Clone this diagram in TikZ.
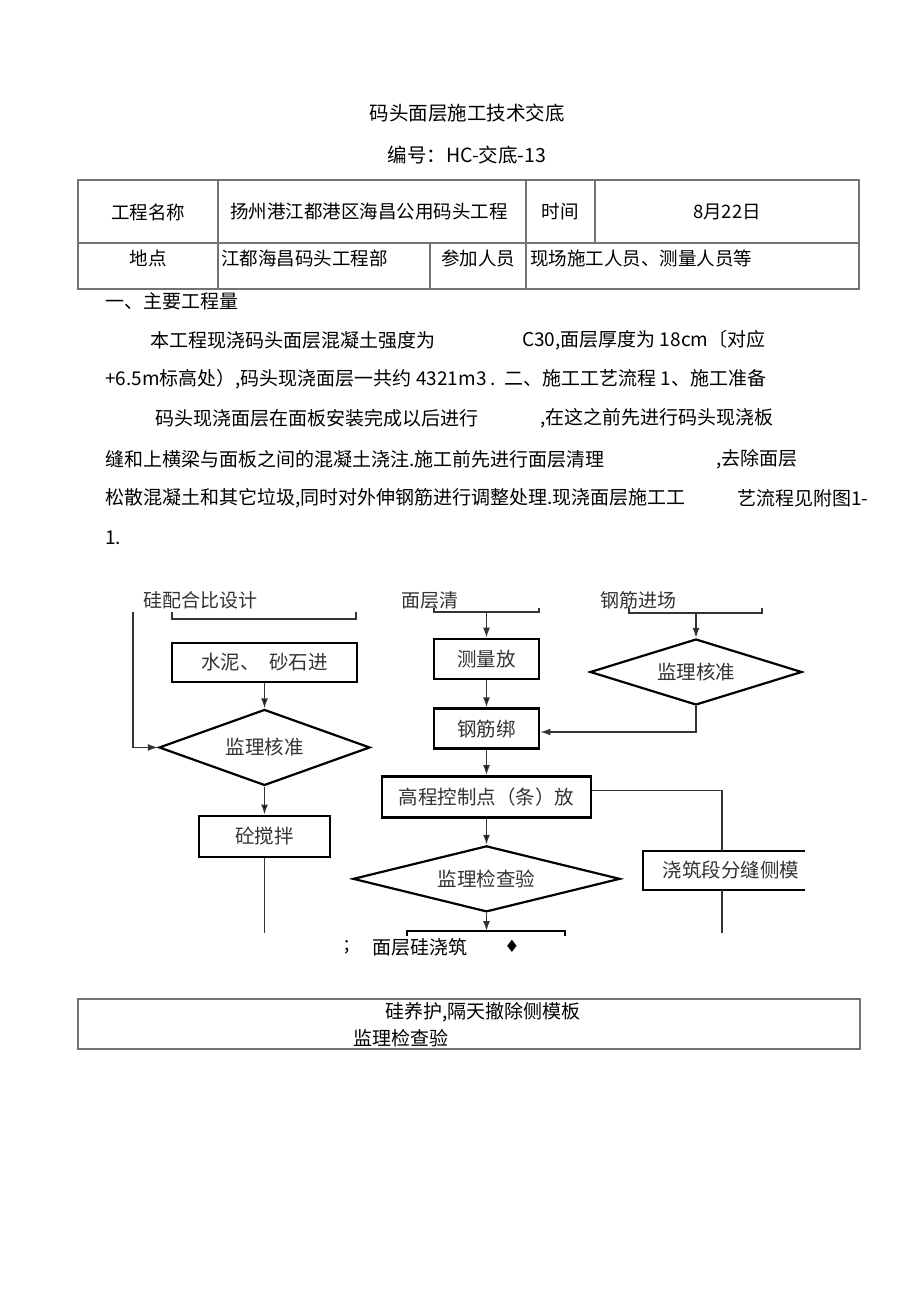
\documentclass[tikz,border=0pt]{standalone}
\usepackage{fontspec}
\setmainfont{Noto Sans CJK SC}
\newfontfamily\symfont{DejaVu Sans}
\usetikzlibrary{positioning}
\usetikzlibrary{shapes.geometric}
\usetikzlibrary{arrows.meta}
\tikzset{
  txt/.style={anchor=west, inner sep=0pt, font=\fontsize{19}{20}\selectfont},
  cell/.style={inner sep=0pt, font=\fontsize{18.5}{20}\selectfont},
  grid/.style={draw=black!55, line width=1.2pt},
  box/.style={draw, line width=2.7pt, inner sep=0pt, text=black!80,
    font=\fontsize{19.5}{20}\selectfont},
  decide/.style={diamond, draw, line width=2.2pt, inner sep=0pt, aspect=3,
    text=black!80, font=\fontsize{19.5}{20}\selectfont},
  link/.style={draw=black!80, line width=1.5pt},
  flow/.style={link, -{Latex[length=10pt,width=7pt]}}
}

\begin{document}
\begin{tikzpicture}[x=1pt,y=1pt]
    \useasboundingbox (0,0) rectangle (920,-1303);
    \fill[white] (0,0) rectangle (920,-1303);

    % heading
    \node[cell, font=\fontsize{19.5}{20}\selectfont] (title) at (467,-113) {码头面层施工技术交底};
    \node[cell, font=\fontsize{19.5}{20}\selectfont] (code) at (467,-155) {编号：HC-交底-13};

    % table
    \draw[grid] (78,-180) rectangle (859,-289);
    \draw[grid] (78,-243) -- (859,-243);
    \draw[grid] (218,-180) -- (218,-289);
    \draw[grid] (526,-180) -- (526,-289);
    \draw[grid] (595,-180) -- (595,-243);
    \draw[grid] (430,-243) -- (430,-289);
    \node[cell] (nameh) at (148,-212) {工程名称};
    \node[cell, anchor=west] (name) at (230,-212) {扬州港江都港区海昌公用码头工程};
    \node[cell] (timeh) at (560,-212) {时间};
    \node[cell] (time) at (727,-212) {8月22日};
    \node[cell] (placeh) at (148,-258) {地点};
    \node[cell, anchor=west] (place) at (221,-258) {江都海昌码头工程部};
    \node[cell] (staffh) at (478,-258) {参加人员};
    \node[cell, anchor=west] (staff) at (530,-258) {现场施工人员、测量人员等};

    % text
    \node[txt] (sec1) at (105,-301) {一、主要工程量};
    \node[txt] (p1a) at (150,-340) {本工程现浇码头面层混凝土强度为};
    \node[txt] (p1b) at (522,-340) {C30,面层厚度为 18cm〔对应};
    \node[txt] (p2) at (105,-379) {+6.5m标高处）,码头现浇面层一共约 4321m3 .\ \ 二、施工工艺流程 1、施工准备};
    \node[txt] (p3a) at (155,-418) {码头现浇面层在面板安装完成以后进行};
    \node[txt] (p3b) at (540,-418) {,在这之前先进行码头现浇板};
    \node[txt] (p4a) at (105,-459) {缝和上横梁与面板之间的混凝土浇注.施工前先进行面层清理};
    \node[txt] (p4b) at (716,-459) {,去除面层};
    \node[txt] (p5a) at (105,-498) {松散混凝土和其它垃圾,同时对外伸钢筋进行调整处理.现浇面层施工工};
    \node[txt] (p5b) at (737,-498) {艺流程见附图1-};
    \node[txt] (p6) at (105,-538) {1.};

    % concrete column
    \node[txt, text=black!80] (mixlbl) at (143,-600) {硅配合比设计};
    \draw[link] (172,-612) -- (172,-619) -- (356,-619) -- (356,-612);
    \node[box, minimum width=185pt, minimum height=39pt] (cement) at (264.5,-662.5) {水泥、\hspace{0.5em}砂石进};
    \node[decide, minimum width=211pt, minimum height=76pt, below=25pt of cement] (approveA) {监理核准};
    \node[box, minimum width=131pt, minimum height=41pt, below=28pt of approveA] (stir) {砼搅拌};
    \coordinate (leftTop) at (133,-612);
    \coordinate (stirEnd) at (264.5,-933);

    \draw[flow] (leftTop) |- (approveA.west);
    \draw[flow] (cement) edge (approveA);
    \draw[flow] (approveA) edge (stir);
    \draw[link] (stir) -- (stirEnd);

    % surface column
    \node[txt, text=black!80] (cleanlbl) at (401,-600) {面层清};
    \draw[link] (434,-608) -- (434,-612) -- (539,-612) -- (539,-608);
    \coordinate (cleanbar) at (486.5,-612);
    \node[box, minimum width=105pt, minimum height=40pt] (survey) at (486.5,-659) {测量放};
    \node[box, minimum width=105pt, minimum height=40pt, below=27pt of survey] (bind) {钢筋绑};
    \node[box, minimum width=209pt, minimum height=41pt, below=25pt of bind] (level) {高程控制点（条）放};
    \node[decide, minimum width=267pt, minimum height=66pt, below=26pt of level] (inspect) {监理检查验};
    \coordinate (pourTop) at (486.5,-931);

    \draw[flow] (cleanbar) -- (survey);
    \draw[flow] (survey) edge (bind);
    \draw[flow] (bind) edge (level);
    \draw[flow] (level) edge (inspect);
    \draw[flow] (inspect) -- (pourTop);
    \draw[line width=2.7pt] (407,-936) -- (407,-931) -- (565,-931) -- (565,-936);

    % steel column
    \node[txt, text=black!80] (steellbl) at (600,-600) {钢筋进场};
    \draw[link] (629,-608) -- (629,-613) -- (762,-613) -- (762,-608);
    \coordinate (steelbar) at (696,-613);
    \node[decide, minimum width=212pt, minimum height=66pt] (approveB) at (696,-672) {监理核准};
    \coordinate (bindIn) at (696,-732);

    \draw[flow] (steelbar) -- (approveB);
    \draw[flow] (approveB.south) -- (bindIn) -- (bind.east |- bindIn);

    % side forms
    \node[inner sep=0pt, text=black!80, font=\fontsize{19.5}{20}\selectfont] (form) at (731,-870.5) {浇筑段分缝侧模};
    \draw[line width=2.7pt] (805,-851) -- (643,-851) -- (643,-890) -- (805,-890);
    \coordinate (formTop) at (722,-851);
    \coordinate (formBot) at (722,-890);
    \coordinate (formEnd) at (722,-933);
    \draw[link] ([yshift=6.5pt]level.east) -| (formTop);
    \draw[link] (formBot) -- (formEnd);

    % pouring
    \node[txt] (semi) at (344,-947) {;};
    \node[txt] (pour) at (372,-947) {面层硅浇筑};
    \node[inner sep=0pt, font=\symfont\fontsize{17}{17}\selectfont] (mark) at (512,-946) {♦};

    % curing
    \draw[grid] (78,-999) rectangle (860,-1049);
    \node[txt] (cure) at (385,-1012) {硅养护,隔天撤除侧模板};
    \node[txt] (check) at (353,-1038) {监理检查验};
\end{tikzpicture}
\end{document}
